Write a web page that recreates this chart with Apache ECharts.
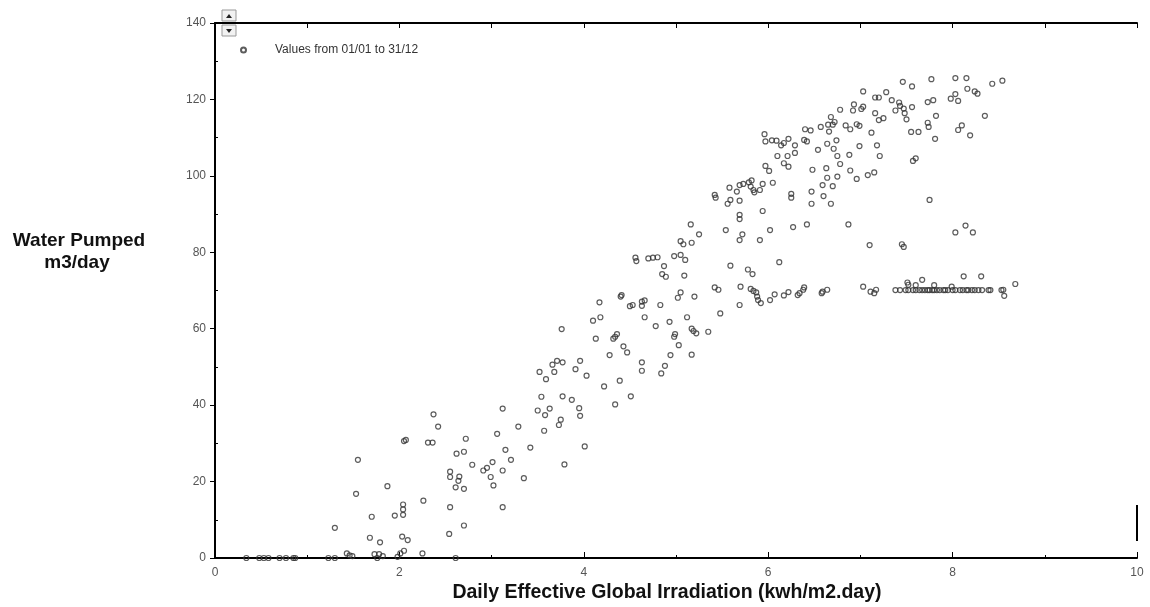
<!DOCTYPE html>
<html>
<head>
<meta charset="utf-8">
<script src="https://cdn.jsdelivr.net/npm/echarts@6/dist/echarts.min.js"></script>
<style>
html,body{margin:0;padding:0;background:#fff;}
#chart{width:1150px;height:607px;}
</style>
</head>
<body>
<div id="chart"></div>
<script>
// ---- DATA ----
var seriesName = 'Values from 01/01 to 31/12';
var xTitle = 'Daily Effective Global Irradiation (kwh/m2.day)';
var yTitleLines = ['Water Pumped', 'm3/day'];
var xTicks = [0, 2, 4, 6, 8, 10];
var yTicks = [0, 20, 40, 60, 80, 100, 120, 140];

// [irradiation, water pumped]
var pointsZero = [[0.34,0],[0.48,0],[0.53,0],[0.58,0],[0.70,0],[0.77,0],[0.85,0],[0.87,0],[1.23,0],[1.30,0],
  [1.43,1.2],[1.46,0.7],[1.49,0.5],[1.76,0],[1.73,1.0],[1.78,1.0],[1.82,0.5],[1.98,0.3],[2.01,1.2],[2.05,1.9],[2.25,1.2],[2.61,0]];

var pointsLow = [[1.30,7.9],[1.53,16.8],[1.55,25.7],[1.68,5.3],[1.70,10.8],[1.79,4.1],[1.87,18.8],[1.95,11.1],[2.03,5.6],[2.09,4.7],
  [2.04,14.0],[2.04,12.7],[2.04,11.3],[2.05,30.6],[2.07,30.9],[2.26,15.0],[2.31,30.2],[2.36,30.2],[2.37,37.6],[2.42,34.4],
  [2.54,6.3],[2.55,13.3],[2.55,22.6],[2.55,21.2],[2.61,18.5],[2.62,27.3],[2.64,20.2],[2.65,21.3],[2.70,27.8],[2.70,18.1],
  [2.70,8.5],[2.72,31.2],[2.79,24.4],[2.91,22.9],[2.95,23.6],[3.01,25.1],[2.99,21.2],[3.02,19.0],[3.06,32.5],[3.12,39.1],
  [3.12,13.3],[3.12,22.9],[3.15,28.3],[3.21,25.7],[3.29,34.4],[3.35,20.9],[3.42,28.9],[3.50,38.6],[3.58,37.4],[3.63,39.1],
  [3.57,33.3],[3.73,34.8],[3.75,36.2],[3.79,24.5],[3.96,37.2],[4.01,29.2]];

var pointsMid = [[3.54,42.2],[3.52,48.7],[3.59,46.8],[3.66,50.6],[3.71,51.6],[3.68,48.7],[3.77,51.2],[3.77,42.3],[3.76,59.9],[3.87,41.4],
  [3.91,49.4],[3.96,51.6],[3.95,39.2],[4.03,47.7],[4.10,62.1],[4.18,63.0],[4.17,66.9],[4.13,57.4],[4.22,44.9],[4.28,53.1],
  [4.32,57.4],[4.34,57.9],[4.36,58.6],[4.34,40.2],[4.39,46.4],[4.40,68.4],[4.41,68.8],[4.43,55.4],[4.47,53.8],[4.51,42.3],
  [4.50,65.9],[4.53,66.2],[4.63,66.0],[4.63,67.1],[4.66,67.4],[4.66,63.0],[4.63,51.2],[4.63,49.0],[4.56,78.6],[4.57,77.7],
  [4.70,78.4],[4.75,78.6],[4.80,78.7],[4.78,60.7],[4.83,66.2],[4.84,48.3],[4.88,50.3],[4.87,76.4],[4.85,74.3],[4.89,73.6],
  [4.93,61.8],[4.94,53.1],[4.98,57.9],[4.99,58.6],[5.03,55.7],[4.98,79.0],[5.05,79.3],[5.10,78.0],[5.09,73.9],[5.02,68.1],
  [5.05,69.5],[5.12,63.0],[5.17,53.2],[5.17,60.0],[5.19,59.4],[5.22,58.8],[5.20,68.4],[5.05,82.9],[5.08,82.1],[5.17,82.5],
  [5.16,87.3],[5.25,84.7],[5.35,59.2],[5.42,70.8],[5.46,70.2],[5.48,64.0],[5.54,85.8],[5.59,76.5],[5.56,92.7],[5.59,93.7],
  [5.69,93.5],[5.69,89.8],[5.69,88.7],[5.72,84.7],[5.69,83.2],[5.78,75.5],[5.70,71.0],[5.69,66.2],[5.81,70.4],[5.83,74.3],
  [5.84,69.9],[5.87,69.5],[5.88,68.4],[5.89,67.5],[5.92,66.7],[6.02,67.5],[6.07,69.0],[6.17,68.7],[6.22,69.6],[6.32,68.8],
  [6.34,69.3],[6.38,70.2],[6.39,70.8],[6.58,69.3],[6.59,69.7],[6.64,70.2],[6.12,77.4]];

var pointsHigh = [[5.42,95.0],[5.43,94.3],[5.58,96.9],[5.66,95.9],[5.69,97.6],[5.73,97.9],[5.79,98.3],[5.82,98.8],[5.81,97.2],[5.84,96.3],
  [5.85,95.7],[5.91,96.3],[5.94,97.9],[5.94,90.8],[5.91,83.2],[6.02,85.8],[6.05,98.2],[5.96,110.9],[5.97,109.0],[6.04,109.3],
  [6.09,109.2],[6.14,108.0],[6.17,108.6],[6.22,109.7],[6.29,108.0],[6.29,106.0],[6.10,105.2],[6.21,105.2],[5.97,102.6],[6.01,101.3],
  [6.17,103.3],[6.22,102.4],[6.25,95.3],[6.25,94.3],[6.27,86.6],[6.42,87.3],[6.40,112.2],[6.46,111.9],[6.39,109.4],[6.42,109.0],
  [6.54,106.8],[6.48,101.6],[6.47,95.9],[6.47,92.7],[6.57,112.8],[6.64,108.4],[6.66,111.6],[6.65,113.4],[6.68,115.4],[6.70,113.4],
  [6.72,114.1],[6.74,109.3],[6.71,107.1],[6.75,105.2],[6.63,102.0],[6.59,97.6],[6.64,99.5],[6.60,94.7],[6.70,97.3],[6.68,92.7],
  [6.78,117.3],[6.78,103.1],[6.75,99.8],[6.88,105.5],[6.89,101.4],[6.96,99.2],[6.84,113.2],[6.89,112.2],[6.92,117.1],[6.93,118.7],
  [6.96,113.5],[6.99,113.1],[6.99,107.8],[7.01,117.5],[7.03,118.1],[7.03,122.1],[7.08,100.2],[7.15,100.9],[7.12,111.3],[7.16,120.5],
  [7.20,120.5],[7.16,116.4],[7.18,108.0],[7.21,105.2],[7.20,114.6],[7.25,115.1],[7.28,121.9],[7.34,119.8],[7.38,117.1],[7.42,119.2],
  [7.43,118.3],[7.47,117.6],[7.48,116.4],[7.50,114.8],[7.56,118.0],[7.46,124.6],[7.56,123.4],[7.55,111.5],[7.63,111.5],[7.57,103.9],
  [7.60,104.6],[7.75,93.7],[7.73,119.3],[7.79,119.8],[7.73,113.9],[7.74,112.8],[7.77,125.3],[7.82,115.7],[7.81,109.7],[7.98,120.2],
  [8.03,121.4],[8.06,119.6],[8.03,125.6],[8.15,125.6],[8.16,122.8],[8.24,122.1],[8.27,121.5],[8.06,112.0],[8.10,113.2],[8.19,110.6],
  [8.35,115.7],[8.43,124.1],[8.54,124.9],[8.03,85.2],[8.14,87.0],[8.22,85.2],[7.10,81.9],[7.45,82.1],[7.47,81.4],[6.87,87.3]];

var pointsPlateau = [[7.03,71.0],[7.11,69.7],[7.15,69.3],[7.17,70.2],
  [7.38,70.1],[7.43,70.1],[7.49,70.1],[7.52,70.1],[7.57,70.1],[7.60,70.1],[7.64,70.1],[7.67,70.1],[7.70,70.1],[7.73,70.1],
  [7.75,70.1],[7.78,70.1],[7.80,70.1],[7.83,70.1],[7.86,70.1],[7.90,70.1],[7.92,70.1],[7.95,70.1],[8.00,70.1],[8.03,70.1],
  [8.08,70.1],[8.11,70.1],[8.15,70.1],[8.17,70.1],[8.21,70.1],[8.24,70.1],[8.28,70.1],[8.32,70.1],[8.39,70.1],[8.41,70.1],[8.53,70.1],
  [7.51,72.1],[7.52,71.5],[7.60,71.4],[7.67,72.8],[7.80,71.4],[7.99,71.0],[8.12,73.7],[8.31,73.7],[8.55,70.2],[8.56,68.6],[8.68,71.7]];

var allPoints = [].concat(pointsZero, pointsLow, pointsMid, pointsHigh, pointsPlateau);

// ---- CHART ----
var FONT = '"Liberation Sans", Arial, sans-serif';
var chart = echarts.init(document.getElementById('chart'), null, {renderer: 'canvas'});
var minorY = [];
for (var v = 10; v < 140; v += 20) minorY.push(v);

chart.setOption({
  animation: false,
  backgroundColor: '#ffffff',
  grid: {left: 215, right: 13, top: 23, bottom: 49, containLabel: false},
  legend: {
    left: 235, top: 39, itemWidth: 5, itemHeight: 5, icon: 'circle',
    selectedMode: false,
    textStyle: {fontFamily: FONT, fontSize: 12, color: '#333', padding: [0, 0, 0, 24]},
    data: [seriesName]
  },
  xAxis: [{
    type: 'value', min: xTicks[0], max: xTicks[xTicks.length - 1], interval: 2,
    axisLine: {onZero: false, lineStyle: {color: '#000', width: 2}},
    axisTick: {inside: true, length: 6, lineStyle: {color: '#000', width: 1}},
    minorTick: {show: true, splitNumber: 2, length: 3, lineStyle: {color: '#000', width: 1}},
    splitLine: {show: false},
    axisLabel: {margin: 9, fontFamily: FONT, fontSize: 12, color: '#555'}
  }, {
    type: 'value', position: 'top', min: 0, max: 10, interval: 1,
    axisLine: {onZero: false, lineStyle: {color: '#000', width: 2}},
    axisTick: {inside: true, length: 5, lineStyle: {color: '#000', width: 1}},
    splitLine: {show: false},
    axisLabel: {show: false}
  }],
  yAxis: [{
    type: 'value', min: yTicks[0], max: yTicks[yTicks.length - 1], interval: 20,
    axisLine: {show: true, onZero: false, lineStyle: {color: '#000', width: 2}},
    axisTick: {show: true, inside: false, length: 5, lineStyle: {color: '#000', width: 1}},
    splitLine: {show: false},
    axisLabel: {margin: 9, fontFamily: FONT, fontSize: 12, color: '#555'}
  }, {
    type: 'value', position: 'left', min: 0, max: 140,
    axisLine: {show: false, onZero: false},
    axisTick: {show: true, inside: true, length: 3, customValues: minorY, lineStyle: {color: '#000', width: 1}},
    splitLine: {show: false},
    axisLabel: {show: false}
  }],
  series: [{
    name: seriesName,
    type: 'scatter',
    symbol: 'circle',
    symbolSize: 5,
    itemStyle: {color: 'rgba(255,255,255,0)', borderColor: '#333', borderWidth: 1.2},
    data: allPoints
  }],
  graphic: [
    {type: 'text', x: 667, y: 593, style: {text: xTitle, font: 'bold 19.5px ' + FONT, fill: '#111', textAlign: 'center', textVerticalAlign: 'middle'}},
    {type: 'text', x: 79, y: 241, style: {text: yTitleLines[0], font: 'bold 19px ' + FONT, fill: '#111', textAlign: 'center', textVerticalAlign: 'middle'}},
    {type: 'text', x: 77, y: 263, style: {text: yTitleLines[1], font: 'bold 19px ' + FONT, fill: '#111', textAlign: 'center', textVerticalAlign: 'middle'}},
    {type: 'line', shape: {x1: 1137, y1: 505, x2: 1137, y2: 541}, style: {stroke: '#000', lineWidth: 2}},
    {type: 'rect', shape: {x: 222, y: 10, width: 14, height: 11}, style: {fill: '#f2f2f2', stroke: '#999', lineWidth: 1}},
    {type: 'polygon', shape: {points: [[226, 18], [232, 18], [229, 14]]}, style: {fill: '#222'}},
    {type: 'rect', shape: {x: 222, y: 25, width: 14, height: 11}, style: {fill: '#f2f2f2', stroke: '#999', lineWidth: 1}},
    {type: 'polygon', shape: {points: [[226, 29], [232, 29], [229, 33]]}, style: {fill: '#222'}}
  ]
});
</script>
</body>
</html>
